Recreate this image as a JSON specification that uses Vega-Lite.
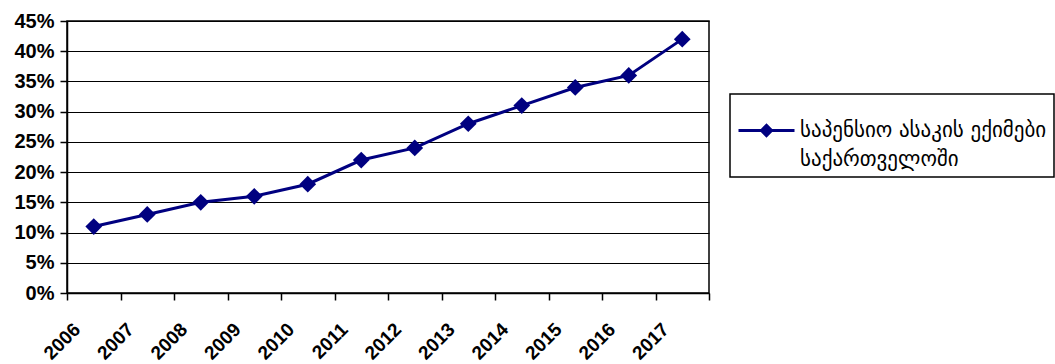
{
  "$schema": "https://vega.github.io/schema/vega-lite/v6.json",
  "width": 642,
  "height": 272,
  "autosize": {"type": "none"},
  "padding": {"left": 67, "top": 21, "right": 346, "bottom": 71},
  "background": "white",
  "config": {
    "view": {"stroke": "black", "strokeWidth": 1.5},
    "font": "Liberation Sans"
  },
  "data": {
    "values": [
      {"year": "2006", "value": 0.11, "series": "საპენსიო ასაკის ექიმები საქართველოში"},
      {"year": "2007", "value": 0.13, "series": "საპენსიო ასაკის ექიმები საქართველოში"},
      {"year": "2008", "value": 0.15, "series": "საპენსიო ასაკის ექიმები საქართველოში"},
      {"year": "2009", "value": 0.16, "series": "საპენსიო ასაკის ექიმები საქართველოში"},
      {"year": "2010", "value": 0.18, "series": "საპენსიო ასაკის ექიმები საქართველოში"},
      {"year": "2011", "value": 0.22, "series": "საპენსიო ასაკის ექიმები საქართველოში"},
      {"year": "2012", "value": 0.24, "series": "საპენსიო ასაკის ექიმები საქართველოში"},
      {"year": "2013", "value": 0.28, "series": "საპენსიო ასაკის ექიმები საქართველოში"},
      {"year": "2014", "value": 0.31, "series": "საპენსიო ასაკის ექიმები საქართველოში"},
      {"year": "2015", "value": 0.34, "series": "საპენსიო ასაკის ექიმები საქართველოში"},
      {"year": "2016", "value": 0.36, "series": "საპენსიო ასაკის ექიმები საქართველოში"},
      {"year": "2017", "value": 0.42, "series": "საპენსიო ასაკის ექიმები საქართველოში"}
    ]
  },
  "mark": {
    "type": "line",
    "color": "#000080",
    "strokeWidth": 3,
    "point": {"shape": "diamond", "size": 280, "filled": true, "color": "#000080", "opacity": 1}
  },
  "encoding": {
    "x": {
      "field": "year",
      "type": "ordinal",
      "bandPosition": 0.5,
      "scale": {"type": "band", "paddingInner": 0, "paddingOuter": 0},
      "axis": {
        "title": null,
        "tickBand": "extent",
        "domainColor": "black",
        "domainWidth": 1.5,
        "tickColor": "black",
        "tickWidth": 1.5,
        "tickSize": 7,
        "labelAngle": -45,
        "labelAlign": "right",
        "labelBaseline": "middle",
        "labelFont": "Liberation Sans",
        "labelFontWeight": "bold",
        "labelFontSize": 19,
        "labelColor": "black",
        "labelOffset": -17,
        "labelPadding": 26,
        "grid": false
      }
    },
    "y": {
      "field": "value",
      "type": "quantitative",
      "scale": {"domain": [0, 0.45], "nice": false},
      "axis": {
        "title": null,
        "values": [0, 0.05, 0.1, 0.15, 0.2, 0.25, 0.3, 0.35, 0.4, 0.45],
        "format": ".0%",
        "grid": true,
        "gridColor": "black",
        "gridWidth": 1.2,
        "gridOpacity": 1,
        "domainColor": "black",
        "domainWidth": 1.5,
        "tickColor": "black",
        "tickWidth": 1.5,
        "tickSize": 7,
        "labelFont": "Liberation Sans",
        "labelFontWeight": "bold",
        "labelFontSize": 20,
        "labelColor": "black",
        "labelPadding": 6
      }
    },
    "color": {
      "field": "series",
      "type": "nominal",
      "scale": {"range": ["#000080"]},
      "legend": {
        "title": null,
        "orient": "none",
        "legendX": 663,
        "legendY": 73,
        "strokeColor": "black",
        "padding": 7,
        "symbolType": "M-1,0H1M-0.18,0L0,-0.18L0.18,0L0,0.18Z",
        "symbolSize": 3136,
        "symbolStrokeWidth": 3,
        "symbolStrokeColor": "#000080",
        "symbolFillColor": "#000080",
        "symbolOpacity": 1,
        "labelFont": "DejaVu Sans",
        "labelFontSize": 21,
        "labelColor": "black",
        "labelLimit": 600,
        "labelOffset": 4,
        "labelBaseline": "middle",
        "labelExpr": "['საპენსიო ასაკის ექიმები', 'საქართველოში']",
        "encode": {
          "legend": {"update": {"strokeWidth": {"value": 1.5}}},
          "labels": {"update": {"lineHeight": {"value": 29}}},
          "symbols": {"update": {"fill": {"value": "#000080"}, "stroke": {"value": "#000080"}, "strokeWidth": {"value": 3}}}
        }
      }
    }
  }
}
